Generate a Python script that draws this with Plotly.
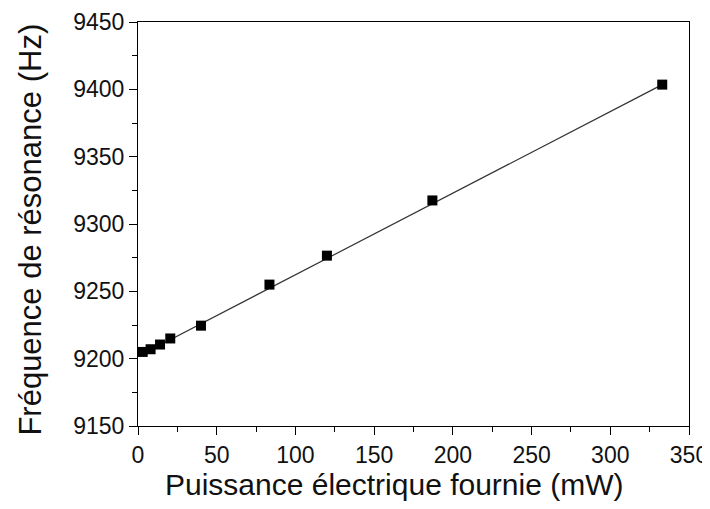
import plotly.graph_objects as go

power_mw = [3, 8, 14, 20.5, 40, 83.5, 120, 187, 333]
freq_hz = [9205, 9207, 9210.5, 9215, 9224.5, 9255, 9276.5, 9317.5, 9403.5]
fit_x = [3, 333]
fit_y = [9203.5, 9403.5]

x_ticks = [0, 50, 100, 150, 200, 250, 300, 350]
y_ticks = [9150, 9200, 9250, 9300, 9350, 9400, 9450]

x_title = "Puissance électrique fournie (mW)"
y_title = "Fréquence de résonance (Hz)"

fig = go.Figure()
fig.add_trace(go.Scatter(x=fit_x, y=fit_y, mode="lines",
                         line=dict(color="#333333", width=1.2), showlegend=False))
fig.add_trace(go.Scatter(x=power_mw, y=freq_hz, mode="markers",
                         marker=dict(symbol="square", size=10, color="black"),
                         showlegend=False))

font_family = "Liberation Sans, Arial, sans-serif"
fig.update_layout(
    width=702, height=501,
    margin=dict(l=130, r=21, t=14, b=83),
    paper_bgcolor="white", plot_bgcolor="white",
    font=dict(family=font_family, color="black"),
)
common = dict(
    showgrid=False, zeroline=False, showline=True, linecolor="black", linewidth=1.2,
    mirror=True, ticks="outside", ticklen=8, tickwidth=1.2, tickcolor="black",
    minor=dict(dtick=25, ticks="outside", ticklen=5, tickwidth=1, tickcolor="black"),
    tickfont=dict(size=23, family=font_family, color="#111111"),
    automargin=False,
)
fig.update_xaxes(range=[0, 350], tickvals=x_ticks, ticktext=[str(v) for v in x_ticks], **common)
fig.update_yaxes(range=[9150, 9450], tickvals=y_ticks, ticktext=[str(v) for v in y_ticks], **common)

fig.add_annotation(text=x_title, xref="paper", yref="paper", x=0.465, y=-0.145,
                   xanchor="center", yanchor="middle", showarrow=False,
                   font=dict(size=30, family=font_family, color="#111111"))
fig.add_annotation(text=y_title, xref="paper", yref="paper", x=-0.195, y=0.485,
                   xanchor="center", yanchor="middle", showarrow=False, textangle=-90,
                   font=dict(size=31, family=font_family, color="#111111"))

fig.write_html("out.html")
